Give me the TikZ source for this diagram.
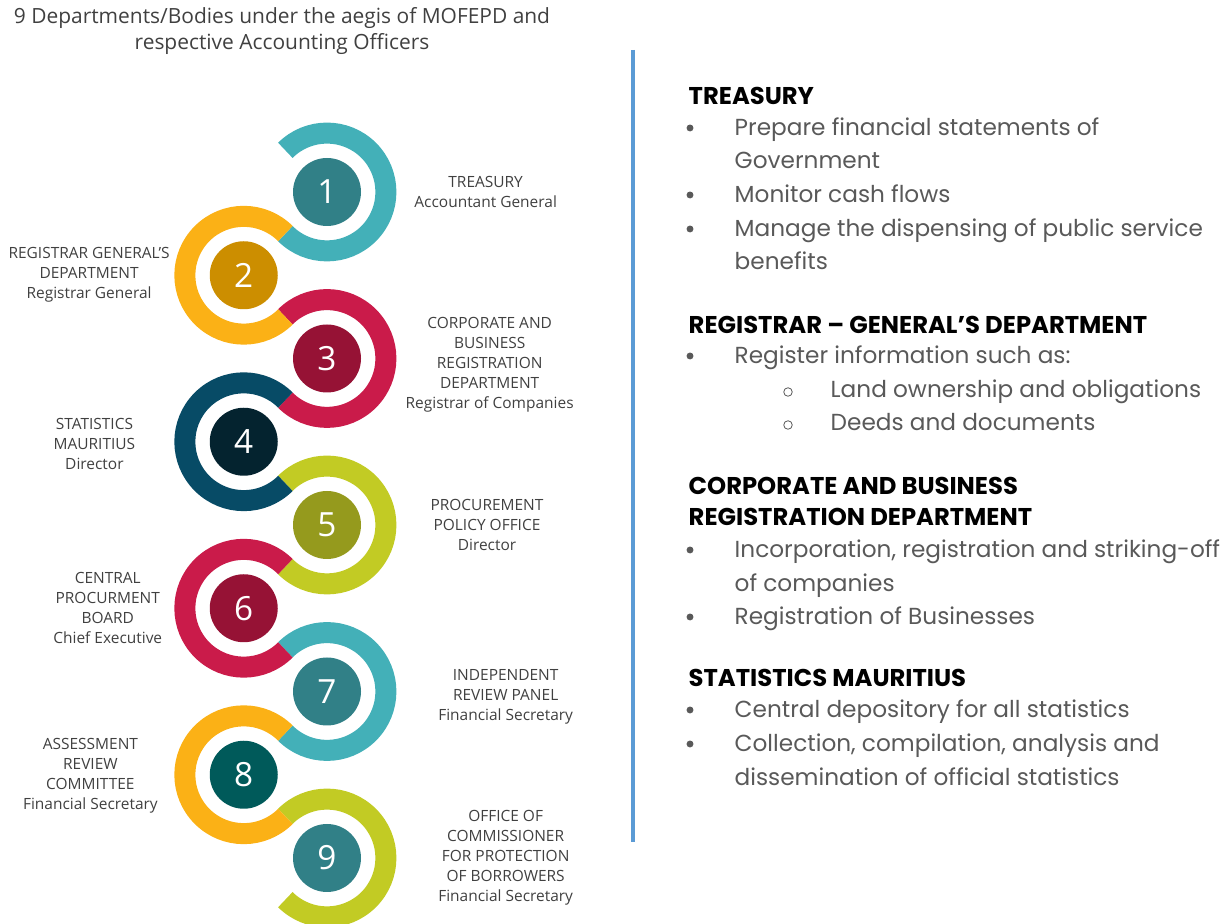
\documentclass[tikz,border=0pt]{standalone}
\usepackage{fontspec}
\setmainfont{Open Sans}
\newfontfamily\gothic{Poppins}
\usetikzlibrary{positioning}

\definecolor{ringteal}{HTML}{43B0B8}
\definecolor{ringgold}{HTML}{FBB116}
\definecolor{ringred}{HTML}{CA1B4A}
\definecolor{ringnavy}{HTML}{074B66}
\definecolor{ringlime}{HTML}{C2CB24}
\definecolor{diskteal}{HTML}{318087}
\definecolor{diskgold}{HTML}{CC8E00}
\definecolor{diskred}{HTML}{961235}
\definecolor{disknavy}{HTML}{04232F}
\definecolor{diskolive}{HTML}{959A1D}
\definecolor{diskdeep}{HTML}{005A5A}
\definecolor{labelgray}{HTML}{404040}
\definecolor{itemgray}{HTML}{595959}
\definecolor{barblue}{HTML}{5B9BD5}

\begin{document}
\begin{tikzpicture}[x=0.75pt,y=0.75pt,node distance=88.3pt,
                ring/.style={line width=15.75pt},
                disk node/.style={circle,inner sep=0pt,minimum size=51pt,text=white,
                  font=\fontsize{25}{25}\selectfont},
                label node/.style={align=center,text=labelgray,font=\fontsize{11.6}{15}\selectfont},
                head node/.style={anchor=base west,font=\gothic\bfseries\fontsize{18.2}{20}\selectfont},
                item node/.style={anchor=base west,text=itemgray,font=\gothic\fontsize{17.4}{20}\selectfont},
                dot node/.style={circle,fill=itemgray,inner sep=0pt,minimum size=5.2pt},
                ring dot/.style={circle,draw=itemgray,line width=0.6pt,inner sep=0pt,minimum size=6.4pt}]

	\useasboundingbox (0,0) rectangle (1225,924);

	\node[label node,font=\fontsize{15.7}{19.5}\selectfont] (title) at (282,893)
		{9 Departments/Bodies under the aegis of MOFEPD and\\respective Accounting Officers};

	% numbered disks, zig-zag downwards
	\node[disk node,fill=diskteal] (d1) at (327,732) {1};
	\node[disk node,fill=diskgold] (d2) [below left of = d1] {2};
	\node[disk node,fill=diskred] (d3) [below right of = d2] {3};
	\node[disk node,fill=disknavy] (d4) [below left of = d3] {4};
	\node[disk node,fill=diskolive] (d5) [below right of = d4] {5};
	\node[disk node,fill=diskred] (d6) [below left of = d5] {6};
	\node[disk node,fill=diskteal] (d7) [below right of = d6] {7};
	\node[disk node,fill=diskdeep] (d8) [below left of = d7] {8};
	\node[disk node,fill=diskteal] (d9) [below right of = d8] {9};

	% rings round the disks
	\foreach \n/\c in {1/ringteal,3/ringred,5/ringlime,7/ringteal,9/ringlime}
		\draw[ring,\c] (d\n.center) ++(135:58.9) arc[start angle=135,end angle=-135,radius=58.9];
	\foreach \n/\c in {2/ringgold,4/ringnavy,6/ringred,8/ringgold}
		\draw[ring,\c] (d\n.center) ++(45:58.9) arc[start angle=45,end angle=315,radius=58.9];

	% labels
	\node[label node] (t1) at (d1) [xshift=119pt] {TREASURY\\Accountant General};
	\node[label node] (t2) at (d2) [xshift=-116pt] {REGISTRAR GENERAL’S\\DEPARTMENT\\Registrar General};
	\node[label node] (t3) at (d3) [xshift=122pt,yshift=-5pt]
		{CORPORATE AND\\BUSINESS\\REGISTRATION\\DEPARTMENT\\Registrar of Companies};
	\node[label node] (t4) at (d4) [xshift=-112pt,yshift=-2pt] {STATISTICS\\MAURITIUS\\Director};
	\node[label node] (t5) at (d5) [xshift=120pt] {PROCUREMENT\\POLICY OFFICE\\Director};
	\node[label node] (t6) at (d6) [xshift=-102pt] {CENTRAL\\PROCURMENT\\BOARD\\Chief Executive};
	\node[label node] (t7) at (d7) [xshift=134pt,yshift=-4pt] {INDEPENDENT\\REVIEW PANEL\\Financial Secretary};
	\node[label node] (t8) at (d8) [xshift=-115pt,yshift=-1pt] {ASSESSMENT\\REVIEW\\COMMITTEE\\Financial Secretary};
	\node[label node] (t9) at (d9) [xshift=134pt]
		{OFFICE OF\\COMMISSIONER\\FOR PROTECTION\\OF BORROWERS\\Financial Secretary};

	% divider
	\draw[barblue,line width=3pt] (633,874) -- (633,82);

	% duties
	\node[head node] (h1) at (684,819) {TREASURY};
	\foreach \y/\t in {788/Prepare financial statements of,755/Government,721/Monitor cash flows,
		687/Manage the dispensing of public service,654/benefits}
		\node[item node] at (730,\y) {\t};
	\foreach \y in {788,721,687}
		\node[dot node] at (690,\y+8) {};

	\node[head node] (h2) at (684,590) {REGISTRAR – GENERAL’S DEPARTMENT};
	\node[item node] at (730,560) {Register information such as:};
	\node[dot node] at (690,568) {};
	\foreach \y/\t in {526/Land ownership and obligations,493/Deeds and documents}{
		\node[item node] at (826,\y) {\t};
		\node[ring dot] at (788,\y+6) {};
	}

	\node[head node] (h3) at (684,429) {CORPORATE AND BUSINESS};
	\node[head node] (h3b) at (684,398) {REGISTRATION DEPARTMENT};
	\foreach \y/\t in {366/{Incorporation, registration and striking-off},332/of companies,
		299/Registration of Businesses}
		\node[item node] at (730,\y) {\t};
	\foreach \y in {366,299}
		\node[dot node] at (690,\y+8) {};

	\node[head node] (h4) at (684,237) {STATISTICS MAURITIUS};
	\foreach \y/\t in {206/Central depository for all statistics,172/{Collection, compilation, analysis and},
		138/dissemination of official statistics}
		\node[item node] at (730,\y) {\t};
	\foreach \y in {206,172}
		\node[dot node] at (690,\y+8) {};
\end{tikzpicture}
\end{document}
